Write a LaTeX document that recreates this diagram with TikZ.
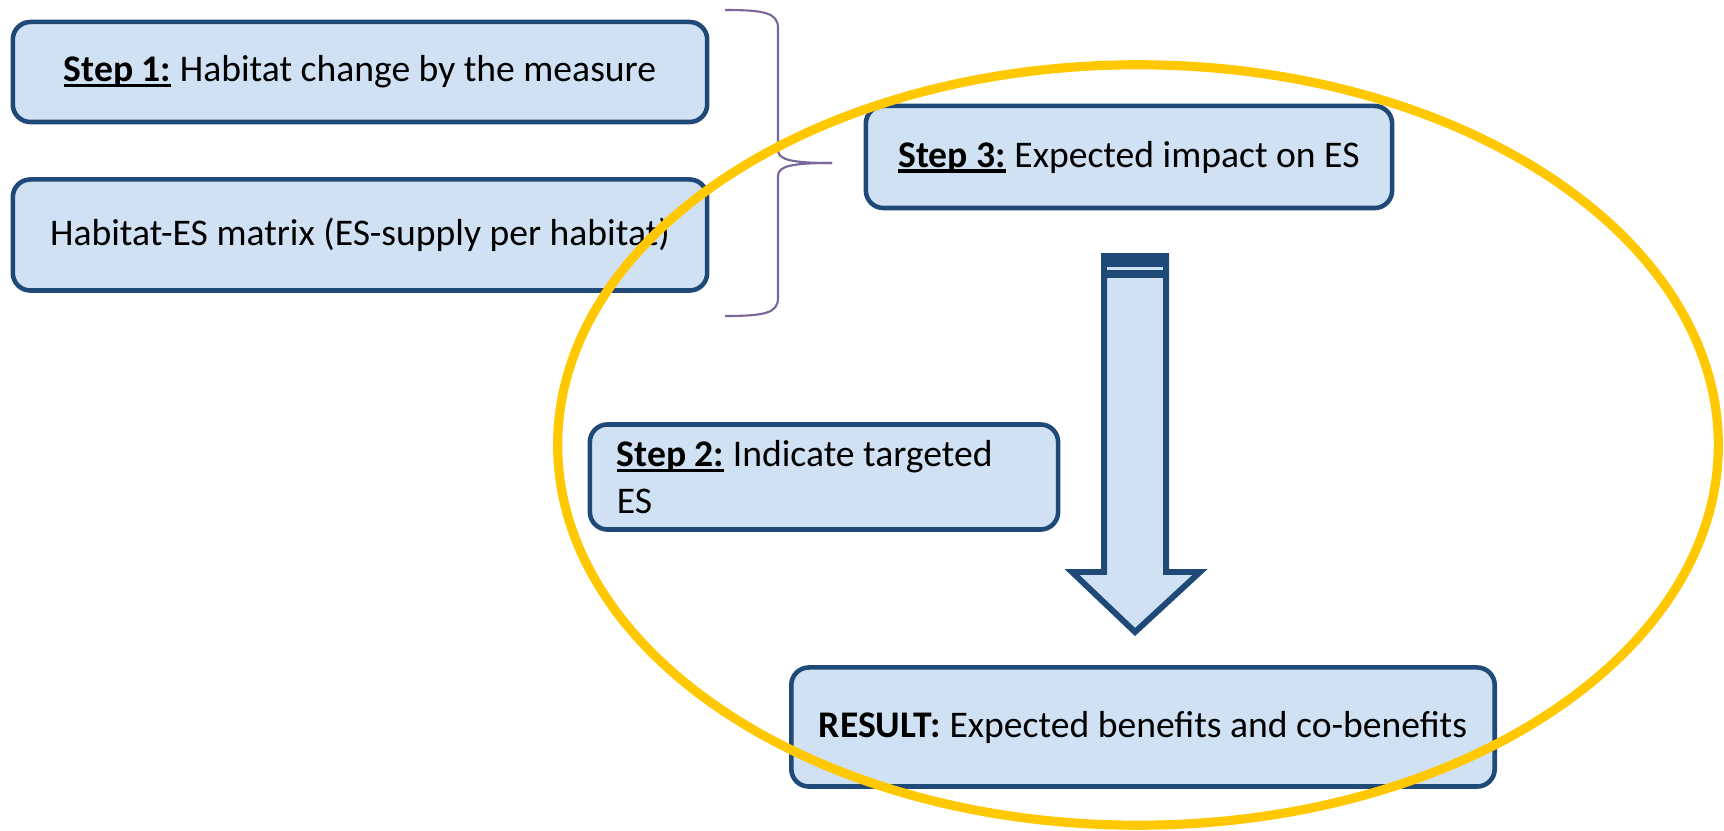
\documentclass[tikz,border=0pt]{standalone}
\usepackage{fontspec}
\setmainfont{Carlito}
\usetikzlibrary{positioning}
\definecolor{boxfill}{HTML}{D0E1F3}
\definecolor{boxline}{HTML}{1F4A78}
\definecolor{ringcolor}{HTML}{FFC800}
\definecolor{bracecolor}{HTML}{7A6698}
\newcommand{\steplabel}[1]{\setbox0\hbox{\textbf{#1}}%
    \rlap{\rule[-1.6pt]{\wd0}{0.9pt}}\box0\relax}

\begin{document}
\begin{tikzpicture}[
        x=0.01cm,
        y=-0.01cm,
        stepbox/.style={draw=boxline, fill=boxfill, line width=1.3pt,
            rounded corners=5pt, inner sep=0pt,
            font=\fontsize{10.7}{13.2}\selectfont},
        bigarrow/.style={draw=boxline, fill=boxfill, line width=1.7pt},
        bracepath/.style={bracecolor, line width=0.6pt}
    ]
        \useasboundingbox (0,0) rectangle (1724,831);

        \node[stepbox, minimum width=6.94cm, minimum height=1.0cm]
            (stepone) at (360,72) {\steplabel{Step 1:} Habitat change by the measure};
        \node[stepbox, minimum width=6.94cm, minimum height=1.11cm]
            (esmatrix) at (360,235) {Habitat-ES matrix (ES-supply per habitat)};
        \node[stepbox, minimum width=5.26cm, minimum height=1.02cm]
            (stepthree) at (1129,157) {\steplabel{Step 3:} Expected impact on ES};
        \node[stepbox, minimum width=4.68cm, minimum height=1.05cm,
              inner xsep=0.27cm, text width=4.14cm, align=flush left]
            (steptwo) at (824,477) {\steplabel{Step 2:} Indicate targeted\\ES};
        \node[stepbox, minimum width=7.03cm, minimum height=1.19cm]
            (result) at (1143,727) {\textbf{RESULT:} Expected benefits and co-benefits};

        % brace joining step 1 and the matrix
        \draw[bracepath] (725,10) .. controls (765,10) and (778,13) .. (778,28)
            -- (778,150) .. controls (778,160) and (792,163) .. (832,163);
        \draw[bracepath] (832,163) .. controls (792,163) and (778,166) .. (778,176)
            -- (778,298) .. controls (778,313) and (765,316) .. (725,316);

        % block arrow from step 3 down to the result
        \coordinate (shafttl) at (1104,256);
        \coordinate (shafttr) at (1166,256);
        \coordinate (headtip) at (1135,632);
        \draw[bigarrow] (shafttl) -- (1104,572) -- (1072,572) -- (headtip)
            -- (1200,572) -- (1166,572) -- (shafttr) -- cycle;
        \fill[boxline] (1101,253) rectangle (1169,278);
        \fill[boxfill] (1107,267) rectangle (1163,270);

        \draw[ringcolor, line width=2.6pt] (1138,445) ellipse [x radius=5.80cm, y radius=3.80cm];
    \end{tikzpicture}
\end{document}
